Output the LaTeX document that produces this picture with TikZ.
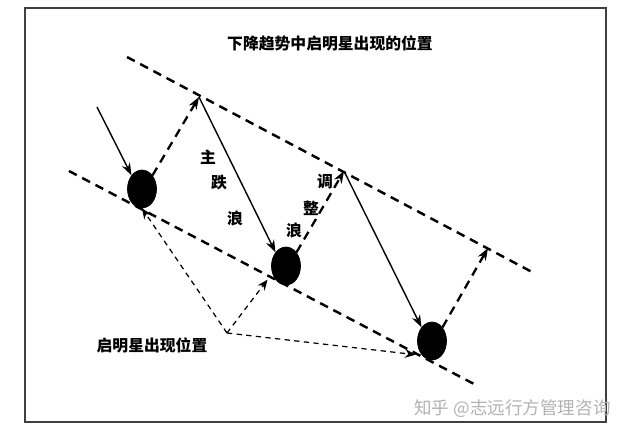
\documentclass[tikz,border=0pt]{standalone}
\usepackage{fontspec}
\newfontfamily\cjk{Noto Sans CJK SC}
\usetikzlibrary{arrows.meta,shapes.geometric}
\tikzset{
  candle/.style={ellipse, fill=black, draw=black, minimum width=0.58cm, minimum height=0.76cm, inner sep=0pt},
  trend/.style={line width=1.4pt, dash pattern=on 5pt off 3.5pt},
  fall/.style={-{Stealth[length=7pt,width=5pt]}, line width=0.8pt},
  rise/.style={-{Stealth[length=7pt,width=5pt]}, line width=1.3pt, dash pattern=on 5pt off 3.5pt},
  hint/.style={-{Stealth[length=6pt,width=5pt]}, line width=0.7pt, dash pattern=on 3pt off 2.5pt},
  label/.style={font=\cjk\bfseries\fontsize{9}{10}\selectfont, inner sep=0pt}
}
\begin{document}
\begin{tikzpicture}[x=0.02cm, y=-0.02cm]
  \useasboundingbox (0,0) rectangle (627,440);
  \draw[black!75, line width=0.8pt] (25,8) rectangle (606,422);

  \node[label] (title) at (330,43) {下降趋势中启明星出现的位置};

  % trend lines
  \coordinate (u1) at (127,57);
  \coordinate (u2) at (532,272);
  \coordinate (l1) at (69,171);
  \coordinate (l2) at (474,384);
  \draw[trend] (u1) -- (u2);
  \draw[trend] (l1) -- (l2);

  % candles and turning points
  \node[candle] (c1) at (142,189) {};
  \node[candle] (c2) at (286,266) {};
  \node[candle] (c3) at (432,341) {};
  \coordinate (s0) at (97,107);
  \coordinate (p1) at (199,97);
  \coordinate (p2) at (344,171);
  \coordinate (p3) at (488,248);
  \coordinate (j) at (227,333);

  \draw[fall] (s0) -- (c1.north west);
  \draw[rise] (c1.north east) -- (p1);
  \draw[fall] (p1) -- (c2.north west);
  \draw[rise] (c2.north east) -- (p2);
  \draw[fall] (p2) -- (c3.north west);
  \draw[rise] (c3.north east) -- (p3);

  \draw[hint] (j) -- (c1.south);
  \draw[hint] (j) -- ([xshift=-0.16cm]c2.south west);
  \draw[hint] (j) -- ([xshift=-0.12cm]c3.south west);

  % labels
  \node[label] (zhu) at (208,157) {主};
  \node[label] (die) at (219,183) {跌};
  \node[label] (lang1) at (235,218) {浪};
  \node[label] (tiao) at (325,182) {调};
  \node[label] (zheng) at (311,208) {整};
  \node[label] (lang2) at (294,230) {浪};
  \node[label] (pos) at (152,345) {启明星出现位置};

  \node[font=\cjk\fontsize{10}{12}\selectfont, text=black!30, inner sep=0pt, anchor=east] (mark) at (611,409) {知乎 @志远行方管理咨询};
\end{tikzpicture}
\end{document}
